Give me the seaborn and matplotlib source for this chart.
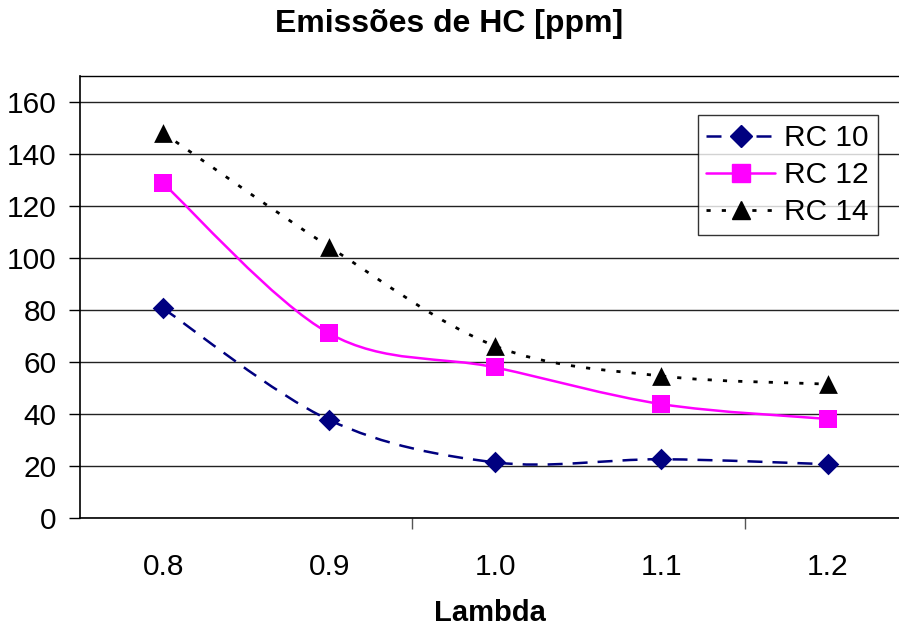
import numpy as np
import pandas as pd
import seaborn as sns
import matplotlib.pyplot as plt
from matplotlib.path import Path
from matplotlib.patches import PathPatch
from matplotlib.lines import Line2D

lambdas = ['0.8', '0.9', '1.0', '1.1', '1.2']
rc10 = [80.7, 37.8, 21.5, 22.7, 20.8]
rc12 = [128.8, 71.1, 58.0, 43.9, 38.2]
rc14 = [148.2, 104.4, 66.2, 54.7, 51.6]
series_names = ['RC 10', 'RC 12', 'RC 14']

sns.set_theme(style='white')
plt.rcParams['font.family'] = ['Liberation Sans', 'DejaVu Sans']
plt.rcParams['text.color'] = 'black'
plt.rcParams['axes.labelcolor'] = 'black'
plt.rcParams['xtick.color'] = 'black'
plt.rcParams['ytick.color'] = 'black'

df = pd.DataFrame({
    'pos': list(range(len(lambdas))) * 3,
    'value': rc10 + rc12 + rc14,
    'serie': [n for n in series_names for _ in lambdas],
})

styles = {
    'RC 10': dict(color='#000080', marker='D', ms=11, ls=(0, (6, 4)), lw=1.8),
    'RC 12': dict(color='#ff00ff', marker='s', ms=12.5, ls='-', lw=1.8),
    'RC 14': dict(color='black', marker='^', ms=13.5, ls=(0, (1.5, 4)), lw=2.0),
}

fig = plt.figure(figsize=(8.99, 6.28), dpi=100)
ax = fig.add_axes([0.089, 0.1747, 0.911, 0.704])


def smooth_path(xs, ys):
    # excel-like bezier smoothing through the points
    pts = np.column_stack([xs, ys]).astype(float)
    verts = [pts[0]]
    codes = [Path.MOVETO]
    n = len(pts)
    for i in range(n - 1):
        p0 = pts[i - 1] if i > 0 else pts[i]
        p1, p2 = pts[i], pts[i + 1]
        p3 = pts[i + 2] if i + 2 < n else pts[i + 1]
        c1 = p1 + (p2 - p0) / 6
        c2 = p2 - (p3 - p1) / 6
        verts += [c1, c2, p2]
        codes += [Path.CURVE4] * 3
    return Path(verts, codes)


for name in series_names:
    st = styles[name]
    sub = df[df.serie == name]
    patch = PathPatch(smooth_path(sub.pos, sub.value), fill=False,
                      edgecolor=st['color'], lw=st['lw'], linestyle=st['ls'],
                      zorder=3, capstyle='butt')
    ax.add_patch(patch)

for name in series_names:
    st = styles[name]
    sns.scatterplot(data=df[df.serie == name], x='pos', y='value', ax=ax,
                    marker=st['marker'], s=st['ms'] ** 2, color=st['color'],
                    edgecolor=st['color'], linewidth=0, zorder=4, legend=False)

ax.set_xlim(-0.5, 4.43)
ax.set_ylim(0, 170)
ax.set_yticks(range(0, 161, 20))
ax.set_xticks(range(len(lambdas)))
ax.set_xticklabels(lambdas)
ax.set_xticks([1.5, 3.5], minor=True)
ax.tick_params(axis='x', which='major', length=0, pad=25, labelsize=21.5)
ax.tick_params(axis='x', which='minor', length=8, width=1, color='#555555',
               direction='out', bottom=True)
ax.tick_params(axis='y', length=8, width=1, color='black', direction='out',
               pad=9, labelsize=21.5, left=True)
ax.grid(axis='y', color='#222222', lw=1)
ax.set_axisbelow(True)
for side in ['left', 'bottom', 'top']:
    ax.spines[side].set_visible(True)
    ax.spines[side].set_color('black')
    ax.spines[side].set_linewidth(1.2)
ax.spines['top'].set_linewidth(1.0)
ax.spines['right'].set_visible(False)

ax.set_xlabel('Lambda', fontsize=21, fontweight='bold', labelpad=13)
ax.set_ylabel('')
fig.suptitle('Emissões de HC [ppm]', fontsize=23, fontweight='bold', y=0.985)

handles = [Line2D([], [], color=styles[n]['color'], marker=styles[n]['marker'],
                  ms=styles[n]['ms'], ls=styles[n]['ls'], lw=styles[n]['lw'])
           for n in series_names]
leg = ax.legend(handles, series_names, loc='upper right',
                bbox_to_anchor=(0.974, 0.912), borderaxespad=0,
                fontsize=21.5, frameon=True, fancybox=False,
                handlelength=2.3, handletextpad=0.3,
                borderpad=0.3, labelspacing=0.3)
leg.get_frame().set_edgecolor('black')
leg.get_frame().set_linewidth(1.0)

fig.savefig('out.png', dpi=100)
